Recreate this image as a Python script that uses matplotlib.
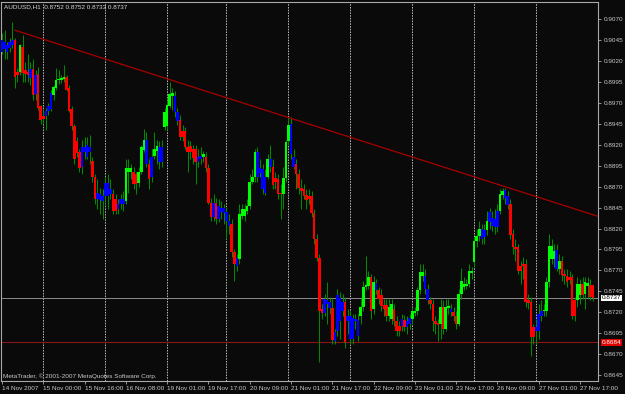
import matplotlib
matplotlib.use("Agg")
import matplotlib.pyplot as plt
import numpy as np

symbol_title = "AUDUSD,H1  0.8752 0.8752 0.8733 0.8737"
copyright_text = "MetaTrader, \u00a9 2001-2007 MetaQuotes Software Corp."

opens = [
    0.9045, 0.9043, 0.9039, 0.9043, 0.9045, 0.9045, 0.9007, 0.9007, 0.9037, 0.9009,
    0.9007, 0.9011, 0.9011, 0.9003, 0.9005, 0.8966, 0.8955, 0.8961, 0.8966, 0.8982,
    0.8979, 0.8988, 0.8997, 0.8998, 0.8999, 0.9001, 0.8988, 0.8963, 0.8943, 0.8925,
    0.8911, 0.8917, 0.8918, 0.8920, 0.8917, 0.8901, 0.8882, 0.8863, 0.8861, 0.8859,
    0.8875, 0.8875, 0.8867, 0.8861, 0.8855, 0.8849, 0.8855, 0.8855, 0.8853, 0.8887,
    0.8888, 0.8887, 0.8885, 0.8875, 0.8888, 0.8914, 0.8926, 0.8897, 0.8906, 0.8907,
    0.8913, 0.8918, 0.8917, 0.8941, 0.8942, 0.8967, 0.8978, 0.8978, 0.8959, 0.8950,
    0.8936, 0.8937, 0.8918, 0.8919, 0.8915, 0.8915, 0.8906, 0.8907, 0.8905, 0.8906,
    0.8892, 0.8851, 0.8851, 0.8851, 0.8847, 0.8845, 0.8844, 0.8840, 0.8829, 0.8825,
    0.8792, 0.8785, 0.8784, 0.8835, 0.8835, 0.8841, 0.8847, 0.8876, 0.8881, 0.8912,
    0.8892, 0.8891, 0.8882, 0.8882, 0.8903, 0.8894, 0.8880, 0.8879, 0.8863, 0.8861,
    0.8880, 0.8924, 0.8945, 0.8906, 0.8897, 0.8885, 0.8869, 0.8867, 0.8860, 0.8859,
    0.8859, 0.8838, 0.8807, 0.8785, 0.8724, 0.8736, 0.8734, 0.8732, 0.8725, 0.8696,
    0.8740, 0.8737, 0.8732, 0.8732, 0.8716, 0.8715, 0.8713, 0.8712, 0.8711, 0.8715,
    0.8726, 0.8750, 0.8751, 0.8762, 0.8724, 0.8755, 0.8746, 0.8741, 0.8729, 0.8729,
    0.8715, 0.8712, 0.8724, 0.8709, 0.8704, 0.8712, 0.8711, 0.8710, 0.8713, 0.8712,
    0.8719, 0.8722, 0.8746, 0.8763, 0.8763, 0.8748, 0.8735, 0.8730, 0.8709, 0.8707,
    0.8706, 0.8726, 0.8700, 0.8725, 0.8724, 0.8720, 0.8716, 0.8706, 0.8742, 0.8750,
    0.8751, 0.8754, 0.8767, 0.8780, 0.8805, 0.8811, 0.8819, 0.8818, 0.8818, 0.8840,
    0.8832, 0.8831, 0.8841, 0.8841, 0.8860, 0.8866, 0.8859, 0.8849, 0.8813, 0.8798,
    0.8798, 0.8775, 0.8778, 0.8778, 0.8734, 0.8732, 0.8702, 0.8702, 0.8718, 0.8722,
    0.8721, 0.8721, 0.8756, 0.8784, 0.8784, 0.8794, 0.8772, 0.8781, 0.8766, 0.8763,
    0.8762, 0.8762, 0.8734, 0.8734, 0.8740, 0.8754, 0.8742, 0.8751, 0.8753, 0.8752,
]

highs = [
    0.9054, 0.9057, 0.9043, 0.9048, 0.9067, 0.9048, 0.9012, 0.9041, 0.9051, 0.9019,
    0.9028, 0.9019, 0.9022, 0.9010, 0.9013, 0.8968, 0.8962, 0.8964, 0.8970, 0.8986,
    0.8992, 0.9012, 0.9010, 0.9004, 0.9016, 0.9004, 0.8991, 0.8966, 0.8945, 0.8929,
    0.8915, 0.8926, 0.8929, 0.8929, 0.8932, 0.8905, 0.8885, 0.8879, 0.8869, 0.8867,
    0.8881, 0.8885, 0.8879, 0.8867, 0.8861, 0.8855, 0.8861, 0.8865, 0.8903, 0.8903,
    0.8897, 0.8893, 0.8888, 0.8893, 0.8920, 0.8939, 0.8935, 0.8903, 0.8915, 0.8935,
    0.8926, 0.8924, 0.8926, 0.8964, 0.8974, 0.8995, 0.8988, 0.8984, 0.8964, 0.8956,
    0.8944, 0.8941, 0.8926, 0.8924, 0.8920, 0.8920, 0.8915, 0.8917, 0.8913, 0.8912,
    0.8897, 0.8857, 0.8861, 0.8857, 0.8855, 0.8853, 0.8849, 0.8845, 0.8837, 0.8831,
    0.8795, 0.8790, 0.8849, 0.8849, 0.8849, 0.8855, 0.8885, 0.8891, 0.8915, 0.8917,
    0.8903, 0.8897, 0.8891, 0.8909, 0.8920, 0.8903, 0.8888, 0.8885, 0.8873, 0.8893,
    0.8926, 0.8953, 0.8953, 0.8915, 0.8903, 0.8891, 0.8879, 0.8873, 0.8867, 0.8867,
    0.8865, 0.8843, 0.8813, 0.8790, 0.8730, 0.8742, 0.8756, 0.8738, 0.8736, 0.8700,
    0.8748, 0.8744, 0.8742, 0.8738, 0.8724, 0.8722, 0.8718, 0.8718, 0.8718, 0.8736,
    0.8757, 0.8787, 0.8769, 0.8766, 0.8763, 0.8760, 0.8750, 0.8748, 0.8736, 0.8736,
    0.8736, 0.8736, 0.8730, 0.8715, 0.8710, 0.8718, 0.8717, 0.8716, 0.8718, 0.8726,
    0.8726, 0.8750, 0.8778, 0.8778, 0.8772, 0.8754, 0.8738, 0.8736, 0.8715, 0.8712,
    0.8736, 0.8734, 0.8736, 0.8736, 0.8730, 0.8726, 0.8722, 0.8748, 0.8773, 0.8762,
    0.8760, 0.8778, 0.8774, 0.8810, 0.8819, 0.8829, 0.8825, 0.8825, 0.8841, 0.8845,
    0.8841, 0.8843, 0.8849, 0.8867, 0.8869, 0.8869, 0.8865, 0.8855, 0.8819, 0.8807,
    0.8801, 0.8781, 0.8786, 0.8784, 0.8742, 0.8738, 0.8706, 0.8712, 0.8730, 0.8734,
    0.8730, 0.8762, 0.8813, 0.8807, 0.8801, 0.8801, 0.8790, 0.8787, 0.8772, 0.8772,
    0.8769, 0.8766, 0.8738, 0.8762, 0.8760, 0.8762, 0.8762, 0.8762, 0.8760, 0.8752,
]

lows = [
    0.9028, 0.9022, 0.9022, 0.9031, 0.9036, 0.8988, 0.8995, 0.9003, 0.8995, 0.8995,
    0.8995, 0.8992, 0.8974, 0.8974, 0.8962, 0.8945, 0.8945, 0.8938, 0.8956, 0.8960,
    0.8974, 0.8986, 0.8993, 0.8994, 0.8995, 0.8984, 0.8959, 0.8938, 0.8897, 0.8905,
    0.8888, 0.8885, 0.8903, 0.8903, 0.8897, 0.8876, 0.8849, 0.8843, 0.8837, 0.8831,
    0.8849, 0.8843, 0.8855, 0.8837, 0.8837, 0.8837, 0.8843, 0.8841, 0.8849, 0.8863,
    0.8879, 0.8867, 0.8861, 0.8870, 0.8885, 0.8912, 0.8893, 0.8867, 0.8876, 0.8903,
    0.8897, 0.8891, 0.8893, 0.8938, 0.8938, 0.8964, 0.8962, 0.8953, 0.8944, 0.8926,
    0.8924, 0.8915, 0.8888, 0.8903, 0.8897, 0.8873, 0.8893, 0.8897, 0.8900, 0.8888,
    0.8849, 0.8829, 0.8829, 0.8825, 0.8828, 0.8831, 0.8825, 0.8807, 0.8813, 0.8786,
    0.8757, 0.8769, 0.8778, 0.8831, 0.8829, 0.8837, 0.8843, 0.8873, 0.8876, 0.8876,
    0.8881, 0.8861, 0.8860, 0.8879, 0.8888, 0.8867, 0.8867, 0.8855, 0.8831, 0.8843,
    0.8876, 0.8920, 0.8903, 0.8891, 0.8867, 0.8861, 0.8843, 0.8855, 0.8843, 0.8849,
    0.8834, 0.8801, 0.8781, 0.8660, 0.8712, 0.8715, 0.8706, 0.8718, 0.8682, 0.8682,
    0.8691, 0.8688, 0.8715, 0.8677, 0.8694, 0.8682, 0.8682, 0.8700, 0.8686, 0.8706,
    0.8722, 0.8746, 0.8748, 0.8712, 0.8718, 0.8742, 0.8730, 0.8722, 0.8715, 0.8710,
    0.8710, 0.8706, 0.8703, 0.8692, 0.8692, 0.8697, 0.8697, 0.8694, 0.8700, 0.8706,
    0.8715, 0.8717, 0.8742, 0.8757, 0.8742, 0.8730, 0.8724, 0.8697, 0.8694, 0.8686,
    0.8688, 0.8694, 0.8698, 0.8718, 0.8715, 0.8710, 0.8700, 0.8703, 0.8736, 0.8746,
    0.8748, 0.8750, 0.8760, 0.8774, 0.8798, 0.8805, 0.8801, 0.8801, 0.8812, 0.8819,
    0.8817, 0.8813, 0.8816, 0.8837, 0.8855, 0.8849, 0.8843, 0.8807, 0.8790, 0.8781,
    0.8766, 0.8754, 0.8760, 0.8726, 0.8724, 0.8668, 0.8682, 0.8682, 0.8688, 0.8710,
    0.8715, 0.8715, 0.8750, 0.8778, 0.8774, 0.8769, 0.8766, 0.8757, 0.8754, 0.8750,
    0.8754, 0.8712, 0.8710, 0.8726, 0.8730, 0.8736, 0.8724, 0.8736, 0.8734, 0.8733,
]

closes = [
    0.9031, 0.9034, 0.9031, 0.9036, 0.9039, 0.9001, 0.9003, 0.9039, 0.9006, 0.9005,
    0.9004, 0.9000, 0.8980, 0.8981, 0.8964, 0.8950, 0.8951, 0.8954, 0.8961, 0.8963,
    0.8989, 0.8998, 0.8999, 0.9000, 0.9001, 0.8986, 0.8961, 0.8942, 0.8903, 0.8910,
    0.8892, 0.8893, 0.8912, 0.8906, 0.8912, 0.8881, 0.8855, 0.8855, 0.8854, 0.8853,
    0.8859, 0.8859, 0.8861, 0.8841, 0.8841, 0.8843, 0.8849, 0.8849, 0.8892, 0.8892,
    0.8892, 0.8873, 0.8873, 0.8887, 0.8917, 0.8926, 0.8897, 0.8879, 0.8881, 0.8915,
    0.8919, 0.8899, 0.8900, 0.8959, 0.8968, 0.8981, 0.8982, 0.8959, 0.8948, 0.8929,
    0.8929, 0.8918, 0.8912, 0.8912, 0.8904, 0.8899, 0.8899, 0.8903, 0.8909, 0.8892,
    0.8851, 0.8834, 0.8834, 0.8831, 0.8831, 0.8840, 0.8838, 0.8829, 0.8823, 0.8792,
    0.8778, 0.8775, 0.8837, 0.8843, 0.8843, 0.8847, 0.8876, 0.8881, 0.8912, 0.8882,
    0.8886, 0.8867, 0.8863, 0.8903, 0.8894, 0.8872, 0.8876, 0.8861, 0.8861, 0.8880,
    0.8923, 0.8944, 0.8909, 0.8894, 0.8885, 0.8869, 0.8865, 0.8859, 0.8854, 0.8855,
    0.8838, 0.8807, 0.8785, 0.8721, 0.8719, 0.8719, 0.8730, 0.8725, 0.8687, 0.8686,
    0.8697, 0.8709, 0.8721, 0.8685, 0.8709, 0.8688, 0.8688, 0.8709, 0.8692, 0.8726,
    0.8750, 0.8753, 0.8762, 0.8722, 0.8756, 0.8747, 0.8736, 0.8728, 0.8724, 0.8715,
    0.8726, 0.8730, 0.8709, 0.8697, 0.8697, 0.8703, 0.8702, 0.8702, 0.8706, 0.8722,
    0.8722, 0.8746, 0.8768, 0.8768, 0.8748, 0.8735, 0.8730, 0.8709, 0.8706, 0.8705,
    0.8726, 0.8700, 0.8726, 0.8728, 0.8720, 0.8715, 0.8706, 0.8742, 0.8757, 0.8754,
    0.8754, 0.8769, 0.8769, 0.8805, 0.8811, 0.8819, 0.8807, 0.8810, 0.8829, 0.8828,
    0.8823, 0.8822, 0.8822, 0.8861, 0.8865, 0.8857, 0.8848, 0.8812, 0.8798, 0.8796,
    0.8769, 0.8769, 0.8775, 0.8732, 0.8731, 0.8690, 0.8690, 0.8697, 0.8698, 0.8716,
    0.8722, 0.8756, 0.8799, 0.8799, 0.8793, 0.8772, 0.8781, 0.8765, 0.8763, 0.8756,
    0.8759, 0.8715, 0.8715, 0.8754, 0.8754, 0.8741, 0.8756, 0.8755, 0.8738, 0.8737,
]

# body colour per bar: g = green, r = red, b = blue
body_colors = (
    "bbbbb" "rr" "g" "rrr" "b" "r" "b" "rrr" "bbb" "ggggg" "rrrrrr" "bbbb" "rr"
    "bbbbbb" "rr" "bbb"
    "ggg" "rr" "ggg" "b" "r" "b" "gg" "bb" "gggg" "bb" "rrrrrrr" "bb" "g" "rrr"
    "b" "r" "bbbbb" "rr" "b" "ggggggg" "bbbb" "g" "b" "rrrr" "ggg" "bb"
    "rrrrrrrrrrr" "bbb" "r" "bbbb" "r" "bbbbb" "gggg" "r" "g" "b" "rrrr" "gg"
    "rrr" "b" "r" "bb" "ggggg" "bb" "rrrr" "g" "r" "gg" "b" "rr" "ggggggggg" "bb"
    "g" "bbbb" "gg" "bb" "rrrrrrrrrr" "bbb" "ggggg" "b" "g" "rrrrrr" "gg" "r" "gg"
    "rr"
)

time_labels = ["14 Nov 2007", "15 Nov 00:00", "15 Nov 16:00", "16 Nov 08:00",
               "19 Nov 01:00", "19 Nov 17:00", "20 Nov 09:00", "21 Nov 01:00",
               "21 Nov 17:00", "22 Nov 09:00", "23 Nov 01:00", "23 Nov 17:00",
               "26 Nov 09:00", "27 Nov 01:00", "27 Nov 17:00"]
bars_per_label = 16
day_start_bars = [16, 40, 64, 87, 111, 135, 159, 183, 207]

price_ticks = [0.9070, 0.9045, 0.9020, 0.8995, 0.8970, 0.8945, 0.8920, 0.8895,
               0.8870, 0.8845, 0.8820, 0.8795, 0.8770, 0.8745, 0.8720, 0.8695,
               0.8670, 0.8645]
bid_price = 0.8737
level_price = 0.8684
trend_bars = [5, 194]
trend_prices = [0.9057, 0.8871]

# ---------------------------------------------------------------
W, H = 625, 394
fig = plt.figure(figsize=(W / 100, H / 100), dpi=100, facecolor="#0a0a0a")
plt.rcParams["font.family"] = ["Liberation Sans", "DejaVu Sans"]
left_px, right_px, top_px, bot_px = 1, 598, 2, 381
ax = fig.add_axes([left_px / W, 1 - bot_px / H, (right_px - left_px) / W,
                   (bot_px - top_px) / H])
ax.set_facecolor("#0a0a0a")

n = len(closes)
xs = np.arange(n)
o = np.array(opens); c = np.array(closes)
hi = np.array(highs); lo = np.array(lows)
cmap = {"g": "#00ff00", "r": "#ff0000", "b": "#0000ff"}
cols = [cmap[ch] for ch in body_colors]

ax.set_xlim(-0.39, 231.0)
ax.set_ylim(0.86378, 0.90907)

# day separators
for d in day_start_bars:
    ax.axvline(d, color="#b8b8b8", lw=0.7, ls=(0, (1.6, 1.2)), zorder=1)

# horizontal lines
ax.axhline(bid_price, color="#8c8c8c", lw=0.7, zorder=2)
ax.axhline(level_price, color="#8a1515", lw=0.8, zorder=2)

# wicks
ax.vlines(xs, lo, hi, color="#008a00", lw=0.75, zorder=3)
# bodies
bottoms = np.minimum(o, c)
heights = np.maximum(np.abs(c - o), 0.00012)
ax.bar(xs, heights, bottom=bottoms, width=1.0, color=cols, linewidth=0,
       zorder=4, antialiased=False)

# trend line (ray)
slope = (trend_prices[1] - trend_prices[0]) / (trend_bars[1] - trend_bars[0])
x_end = 231.0
ax.plot([trend_bars[0], x_end],
        [trend_prices[0], trend_prices[0] + slope * (x_end - trend_bars[0])],
        color="#a80000", lw=0.9, zorder=5)

# spines
for s in ax.spines.values():
    s.set_color("#a8a8a8")
    s.set_linewidth(0.8)

# y axis on right
ax.yaxis.tick_right()
ax.set_yticks(price_ticks)
ax.set_yticklabels([f"{p:.4f}" for p in price_ticks])
ax.tick_params(axis="y", colors="#a8a8a8", labelcolor="#c8c8c8", length=2.5,
               width=0.6, labelsize=4.6, pad=1.5)

# x axis labels
xt = [i * bars_per_label for i in range(len(time_labels))]
ax.set_xticks(xt)
ax.set_xticklabels(time_labels, ha="left")
ax.tick_params(axis="x", colors="#a8a8a8", labelcolor="#c8c8c8", length=2,
               width=0.6, labelsize=4.6, pad=1.5)

# price boxes
ax.annotate(f"{bid_price:.4f}", xy=(1, bid_price),
            xycoords=("axes fraction", "data"), xytext=(2.6, 0),
            textcoords="offset points", va="center", ha="left", fontsize=4.6,
            color="black",
            bbox=dict(boxstyle="square,pad=0.15", fc="white", ec="none"))
ax.annotate(f"{level_price:.4f}", xy=(1, level_price),
            xycoords=("axes fraction", "data"), xytext=(2.6, 0),
            textcoords="offset points", va="center", ha="left", fontsize=4.6,
            color="white",
            bbox=dict(boxstyle="square,pad=0.15", fc="#e00000", ec="none"))

fig.text(4 / W, 1 - 7 / H, symbol_title, color="#d8d8d8", fontsize=4.6,
         va="center", ha="left")
fig.text(3 / W, 1 - 376 / H, copyright_text, color="#c8c8c8", fontsize=4.6,
         va="center", ha="left")

fig.savefig("out.png", dpi=100, facecolor=fig.get_facecolor())
